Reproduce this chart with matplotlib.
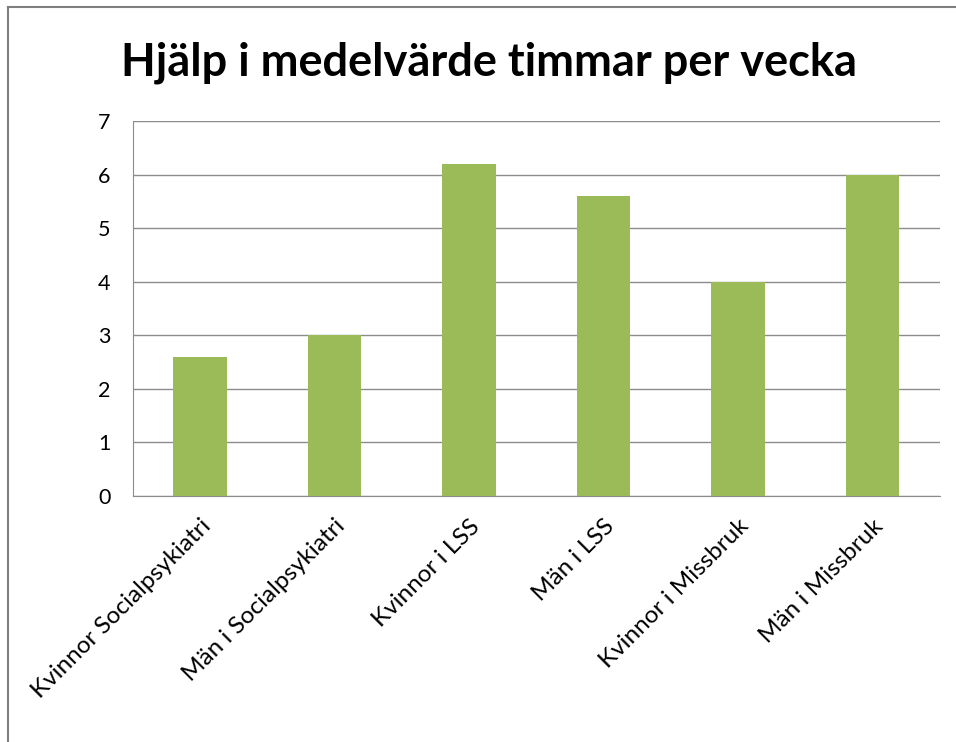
import matplotlib.pyplot as plt
from matplotlib.lines import Line2D

categories = ["Kvinnor Socialpsykiatri", "Män i Socialpsykiatri", "Kvinnor i LSS",
              "Män i LSS", "Kvinnor i Missbruk", "Män i Missbruk"]
values = [2.6, 3.0, 6.2, 5.6, 4.0, 6.0]
y_ticks = [0, 1, 2, 3, 4, 5, 6, 7]

plt.rcParams['font.family'] = ['Lato', 'DejaVu Sans']

fig = plt.figure(figsize=(9.56, 7.42), dpi=100)
ax = fig.add_axes([0.139, 0.3315, 0.844, 0.5055])

x = list(range(len(categories)))
ax.bar(x, values, width=0.4, color='#9BBB59', zorder=3)
ax.set_xlim(-0.5, len(categories) - 0.5)
ax.set_ylim(0, 7)
ax.set_yticks(y_ticks)
ax.set_yticklabels([str(t) for t in y_ticks], fontsize=15.5)
ax.yaxis.grid(True, color='#8c8c8c', linewidth=1)
ax.set_axisbelow(True)

ax.set_xticks(x)
ax.set_xticklabels(categories, fontsize=17.5, rotation=45, ha='right',
                   rotation_mode='anchor')
ax.tick_params(axis='both', length=0)
ax.tick_params(axis='x', pad=14)
ax.tick_params(axis='y', pad=16)

for side in ['top', 'right']:
    ax.spines[side].set_visible(False)
ax.spines['left'].set_color('#8c8c8c')
ax.spines['bottom'].set_color('#8c8c8c')

fig.text(0.511, 0.915, "Hjälp i medelvärde timmar per vecka", fontsize=32.5,
         fontweight='bold', ha='center', va='center')

# outer frame (top and left edges)
fig.add_artist(Line2D([8 / 956, 1.0], [1 - 7 / 742, 1 - 7 / 742],
                      transform=fig.transFigure, color='#7f7f7f', linewidth=1.5))
fig.add_artist(Line2D([8 / 956, 8 / 956], [0, 1 - 7 / 742],
                      transform=fig.transFigure, color='#7f7f7f', linewidth=1.5))

fig.savefig('out.png', dpi=100)
